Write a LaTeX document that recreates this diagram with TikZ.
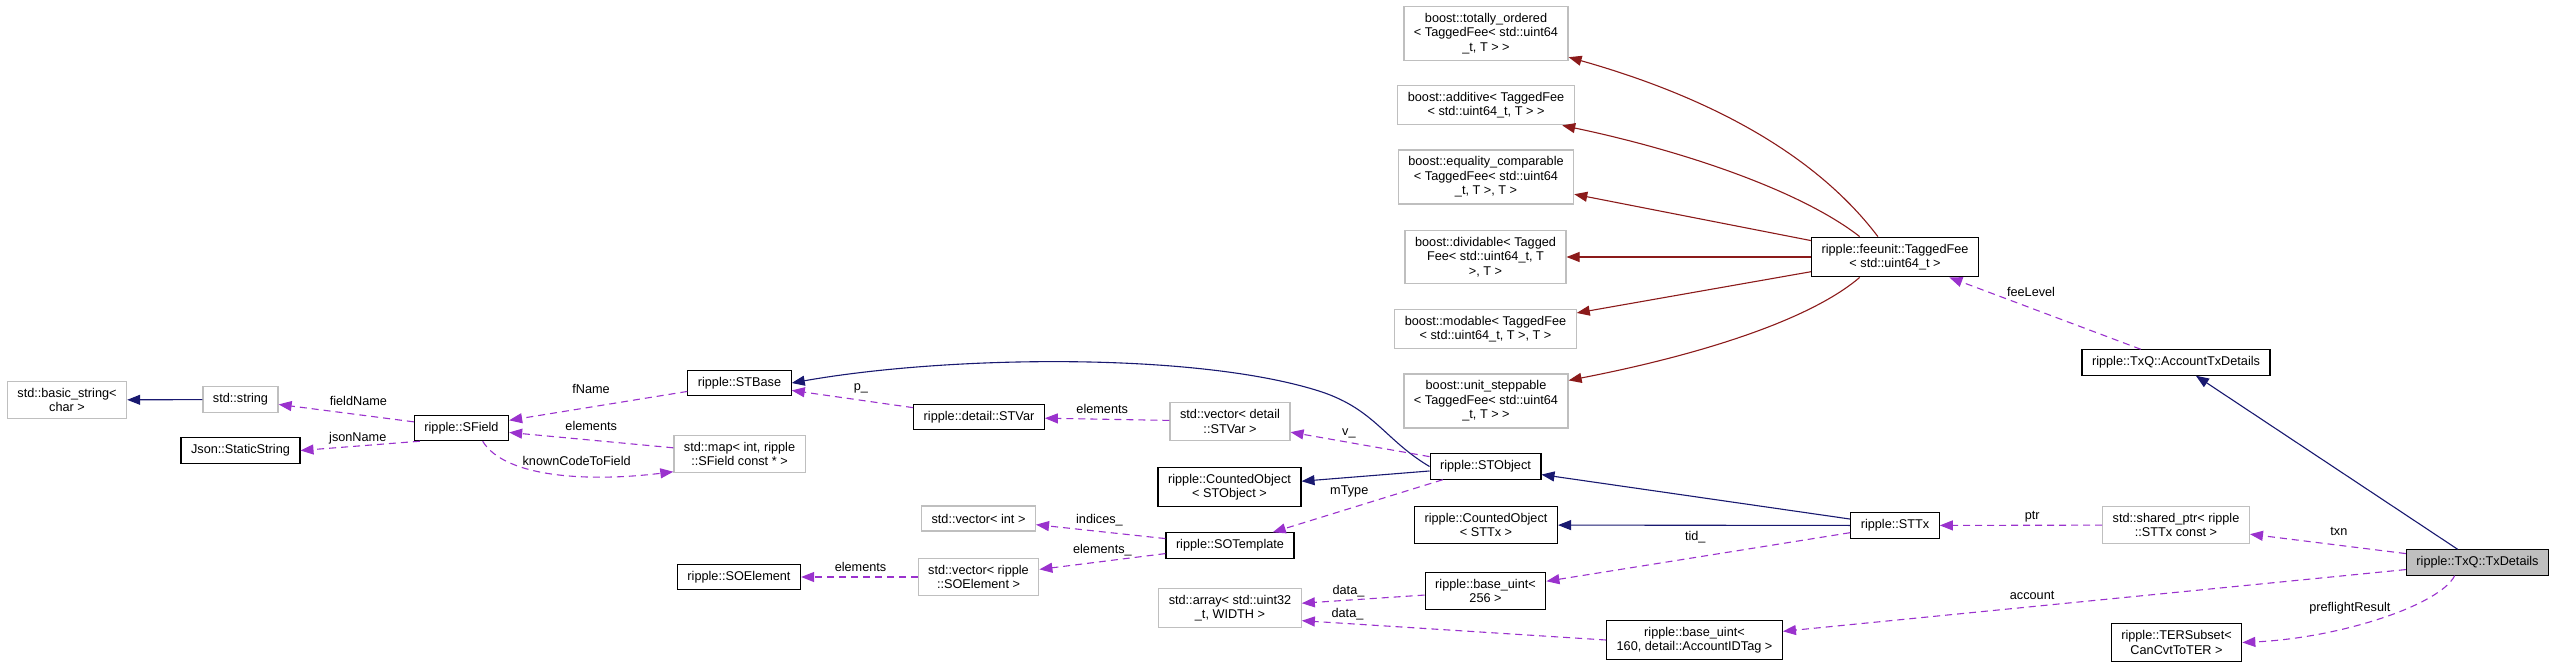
\documentclass[tikz,border=0pt]{standalone}
\usepackage{fontspec}
\setmainfont{Liberation Sans}
\usetikzlibrary{arrows.meta}

\definecolor{inhblue}{RGB}{25,25,112}
\definecolor{privred}{RGB}{139,26,26}
\definecolor{usepurple}{RGB}{154,50,205}
\definecolor{boxgray}{RGB}{191,191,191}

\tikzset{
  cls/.style={draw=black, line width=1.2pt, fill=white, align=center,
    inner xsep=10pt, inner ysep=6.7pt, minimum height=25pt,
    font=\fontsize{12.7}{14.5}\selectfont},
  ext/.style={cls, draw=boxgray},
  cur/.style={cls, fill=boxgray},
  inh/.style={draw=inhblue, line width=1.1pt, -{Triangle[length=13pt,width=10pt]}},
  privinh/.style={inh, draw=privred},
  member/.style={inh, draw=usepurple, dash pattern=on 7pt off 5pt},
  lbl/.style={font=\fontsize{12.7}{14.5}\selectfont, inner sep=1pt,
    text height=9.3pt, text depth=2.7pt, text=black}
}

\begin{document}
\begin{tikzpicture}[x=1pt,y=-1pt]
\useasboundingbox (0,0) rectangle (2553,669);

% classes on the left
\node[ext] (bstr) at (67,400) {std::basic\_string<\\char >};
\node[ext] (sstr) at (240.5,399.5) {std::string};
\node[cls] (sfield) at (461.5,428) {ripple::SField};
\node[cls] (json) at (240.5,450.5) {Json::StaticString};
\node[cls] (stbase) at (739.5,383) {ripple::STBase};
\node[ext] (fmap) at (739.5,454) {std::map< int, ripple\\::SField const * >};
\node[cls] (stvar) at (979,417) {ripple::detail::STVar};
\node[ext] (vecvar) at (1230,421.5) {std::vector< detail\\::STVar >};
\node[cls] (cntobj) at (1229.5,487) {ripple::CountedObject\\< STObject >};
\node[ext] (vecint) at (978.5,518.5) {std::vector< int >};
\node[cls] (sotmpl) at (1230,545.5) {ripple::SOTemplate};
\node[ext] (vecelem) at (978.5,577) {std::vector< ripple\\::SOElement >};
\node[cls] (soelem) at (739,577) {ripple::SOElement};
\node[ext] (starr) at (1230,608) {std::array< std::uint32\\\_t, WIDTH >};

% middle column
\node[ext] (totord) at (1486,33.5) {boost::totally\_ordered\\< TaggedFee< std::uint64\\\_t, T > >};
\node[ext] (addit) at (1486,105) {boost::additive< TaggedFee\\< std::uint64\_t, T > >};
\node[ext] (eqcmp) at (1486,177) {boost::equality\_comparable\\< TaggedFee< std::uint64\\\_t, T >, T >};
\node[ext] (divid) at (1485.5,257) {boost::dividable< Tagged\\Fee< std::uint64\_t, T\\>, T >};
\node[ext] (modab) at (1485.5,329) {boost::modable< TaggedFee\\< std::uint64\_t, T >, T >};
\node[ext] (unstep) at (1486,401) {boost::unit\_steppable\\< TaggedFee< std::uint64\\\_t, T > >};
\node[cls] (stobj) at (1485.5,466.5) {ripple::STObject};
\node[cls] (cntstx) at (1486,525) {ripple::CountedObject\\< STTx >};
\node[cls] (buint256) at (1485.5,591) {ripple::base\_uint<\\256 >};
\node[cls] (buint160) at (1694.5,640) {ripple::base\_uint<\\160, detail::AccountIDTag >};

% right side
\node[cls] (tfee) at (1895,257) {ripple::feeunit::TaggedFee\\< std::uint64\_t >};
\node[cls] (sttx) at (1895,525.5) {ripple::STTx};
\node[cls] (acctx) at (2176,362.5) {ripple::TxQ::AccountTxDetails};
\node[ext] (shptr) at (2176,525) {std::shared\_ptr< ripple\\::STTx const >};
\node[cls] (tersub) at (2176.5,642.5) {ripple::TERSubset<\\CanCvtToTER >};
\node[cur] (txdet) at (2477.5,562.5) {ripple::TxQ::TxDetails};

% inheritance
\draw[inh] (sstr) -- (bstr);
\draw[inh] (stobj.west) .. controls (1385,440) and (1375,410) .. (1322,392)
  .. controls (1200,352) and (950,355) .. (stbase.east);
\draw[inh] (stobj) -- (cntobj);
\draw[inh] (sttx) -- (stobj);
\draw[inh] (sttx) -- (cntstx);
\draw[inh] (txdet) -- (acctx);
\foreach \b in {eqcmp,divid,modab}
  \draw[privinh] (tfee) -- (\b);
\draw[privinh] (tfee.130) .. controls (1820,160) and (1720,100) .. (totord.-16);
\draw[privinh] (tfee.150) .. controls (1800,190) and (1680,150) .. (addit.-15);
\draw[privinh] (tfee.-150) .. controls (1810,320) and (1700,355) .. (unstep.14);

% members
\draw[member] (sfield) -- node[lbl, pos=.41, above=5pt] {fieldName} (sstr);
\draw[member] ([xshift=6pt]sfield.south west) -- node[lbl, pos=.52, above=0.5pt] {jsonName} (json.east);
\draw[member] (stbase) -- node[lbl, pos=.54, above=9pt] {fName} (sfield);
\draw[member] (fmap) -- node[lbl, pos=.5, above=5pt] {elements} (sfield);
\draw[member] (sfield.-32) .. controls (505,478) and (590,482) .. node[lbl, pos=.6, above=6pt] {knownCodeToField} (fmap.-165);
\draw[member] (stvar) -- node[lbl, pos=.43, above=5pt] {p\_} (stbase);
\draw[member] (vecvar) -- node[lbl, pos=.54, above=1.5pt] {elements} (stvar);
\draw[member] (stobj) -- node[lbl, pos=.58, above=3pt] {v\_} (vecvar);
\draw[member] (stobj) -- node[lbl, pos=.55, above=10pt] {mType} (sotmpl);
\draw[member] (sotmpl) -- node[lbl, pos=.51, above=3.5pt] {indices\_} (vecint);
\draw[member] (sotmpl) -- node[lbl, pos=.5, above=3.5pt] {elements\_} (vecelem);
\draw[member] (vecelem) -- node[lbl, pos=.49, above=1.5pt] {elements} (soelem);
\draw[member] (buint256) -- node[lbl, pos=.62, above=1.5pt] {data\_} (starr);
\draw[member] (buint160.west) -- node[lbl, pos=.85, above=2pt] {data\_} (starr.-10);
\draw[member] (sttx) -- node[lbl, pos=.51, above=13pt] {tid\_} (buint256);
\draw[member] (shptr) -- node[lbl, pos=.43, above=1.5pt] {ptr} (sttx);
\draw[member] (txdet) -- node[lbl, pos=.43, above=5pt] {txn} (shptr);
\draw[member] (txdet) -- node[lbl, pos=.6, above=3pt] {account} (buint160);
\draw[member] (txdet.-150) .. controls (2440,605) and (2340,638) .. node[lbl, pos=.62, above=11pt] {preflightResult} (tersub.east);
\draw[member] (acctx) -- node[lbl, pos=.78, right=14pt] {feeLevel} (tfee);
\end{tikzpicture}
\end{document}
